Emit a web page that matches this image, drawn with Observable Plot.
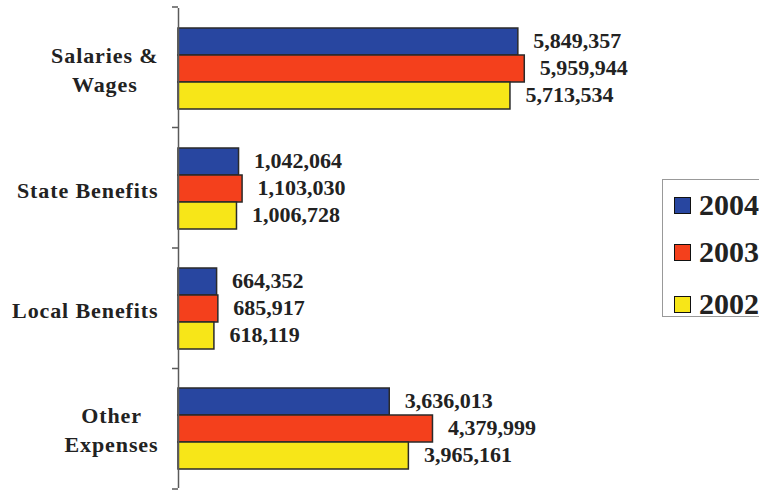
<!DOCTYPE html>
<html><head><meta charset="utf-8">
<script src="https://cdn.jsdelivr.net/npm/d3@7"></script>
<script src="https://cdn.jsdelivr.net/npm/@observablehq/plot@0.6"></script>
<style>
body{margin:0;background:#fff;}
#wrap{position:relative;width:759px;height:490px;overflow:hidden;font-family:'Liberation Serif',serif;}
#legend{position:absolute;left:662px;top:179px;width:130px;height:138px;border:1px solid #999;box-sizing:border-box;background:#fff;}
.item{position:absolute;left:11px;height:34px;line-height:34px;display:flex;align-items:center;font-family:'Liberation Serif',serif;font-weight:bold;font-size:30px;color:#222;}
.sw{width:15px;height:15px;border:1.5px solid #111;margin-right:8px;}
</style></head>
<body><div id="wrap"><div id="chart"></div><div id="legend"></div></div>
<script>
const categories = ["Salaries &\nWages", "State Benefits", "Local Benefits", "Other\nExpenses"];
const years = ["2004", "2003", "2002"];
const values2004 = [5849357, 1042064, 664352, 3636013];
const values2003 = [5959944, 1103030, 685917, 4379999];
const values2002 = [5713534, 1006728, 618119, 3965161];
const colors = ["#2846a0", "#f4401c", "#f7e618"];

const series = {"2004": values2004, "2003": values2003, "2002": values2002};
const data = [];
categories.forEach((c, i) => years.forEach(y => data.push({category: c, year: y, value: series[y][i]})));

const FONT = "'Liberation Serif', serif";
const fmt = d3.format(",");
const chart = Plot.plot({
  width: 759, height: 490,
  marginLeft: 178, marginRight: 0, marginTop: 7, marginBottom: 1,
  x: {domain: [0, 1e7], axis: null},
  fy: {domain: categories, padding: 0, label: null},
  y: {domain: years, paddingInner: 0, paddingOuter: 0.68, axis: null},
  color: {domain: years, range: colors},
  style: {background: "transparent", overflow: "visible"},
  marks: [
    Plot.axisFy({anchor: "left", tickSize: 0, tickPadding: 20, fontSize: 22, fontWeight: "bold", fontFamily: FONT, label: null, lineHeight: 1.3, fill: "#222"}),
    Plot.barX(data, {fy: "category", y: "year", x: "value", fill: "year", stroke: "#2a2a2a", strokeWidth: 1.5}),
    Plot.text(data, {fy: "category", y: "year", x: "value", text: d => fmt(d.value), dx: 15, dy: -1, textAnchor: "start", fontSize: 22, fontWeight: "bold", fontFamily: FONT, fill: "#222"}),
    Plot.ruleX([0], {stroke: "#5a5a5a", strokeWidth: 1.5})
  ]
});
document.getElementById("chart").appendChild(chart);
d3.select(chart).selectAll("text").attr("font-family", FONT).style("font-family", FONT);

// category boundary ticks from the fy scale
const fy = chart.scale("fy");
const xs = chart.scale("x");
const band = d3.scaleBand(fy.domain, fy.range).paddingInner(fy.paddingInner || 0).paddingOuter(fy.paddingOuter || 0);
const bounds = fy.domain.map(c => band(c)).concat([band(fy.domain[fy.domain.length - 1]) + band.bandwidth()]);
const x0 = xs.apply(0);
d3.select(chart).append("g").selectAll("line").data(bounds).join("line")
  .attr("x1", x0 - 6).attr("x2", x0).attr("y1", d => d).attr("y2", d => d)
  .attr("stroke", "#5a5a5a").attr("stroke-width", 1.5);

// center multi-line category labels, right edge aligned
d3.select(chart).selectAll('g[aria-label="fy-axis tick label"] text').each(function() {
  this.style.letterSpacing = "0.9px";
  const tspans = this.querySelectorAll("tspan");
  if (tspans.length > 1) {
    const w = this.getBBox().width;
    this.setAttribute("text-anchor", "middle");
    tspans.forEach(t => t.setAttribute("x", -w / 2));
  }
});

// legend
const legend = document.getElementById("legend");
const centers = [25, 72, 124];
years.forEach((y, i) => {
  const it = document.createElement("div");
  it.className = "item";
  it.style.top = (centers[i] - 17) + "px";
  it.innerHTML = `<span class="sw" style="background:${colors[i]}"></span><span>${y}</span>`;
  legend.appendChild(it);
});
</script>
</body></html>
